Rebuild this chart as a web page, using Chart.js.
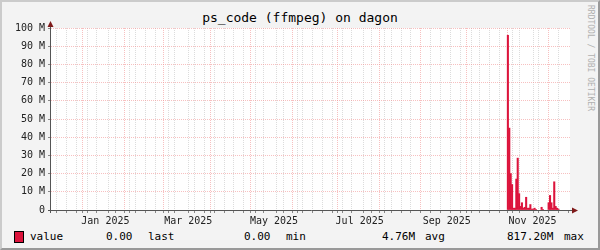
<!DOCTYPE html>
<html>
<head>
<meta charset="utf-8">
<script src="https://cdn.jsdelivr.net/npm/chart.js@4.4.1/dist/chart.umd.min.js"></script>
<style>
body { margin: 0; background: #fff; }
#wrap { position: relative; width: 600px; height: 250px; background: #f3f3f3; overflow: hidden;
        font-family: "DejaVu Sans Mono", monospace; }
#frame { position: absolute; left: 0; top: 0; width: 600px; height: 250px; box-sizing: border-box;
         border-style: solid; border-width: 2px; border-color: #cbcbcb #999 #999 #cbcbcb; }
#c { position: absolute; left: 0; top: 0; }
#title { position: absolute; left: 0; top: 10px; width: 600px; text-align: center; font-size: 13px; color: #000; }
#side { position: absolute; left: 586px; top: 5px; writing-mode: vertical-rl; font-size: 8px; color: #b0b0b0; }
.lg { position: absolute; top: 231px; font-size: 11px; line-height: 12px; color: #000; white-space: pre; }
#box { position: absolute; left: 14px; top: 231px; width: 8px; height: 10px; background: #DC143C; border: 1px solid #000; }
</style>
</head>
<body>
<div id="wrap">
  <div id="frame"></div>
  <div id="title">ps_code (ffmpeg) on dagon</div>
  <div id="side">RRDTOOL / TOBI OETIKER</div>
  <div id="box"></div>
  <span class="lg" style="left:30px">value</span>
  <span class="lg" style="left:106px">0.00</span>
  <span class="lg" style="left:148px">last</span>
  <span class="lg" style="left:244px">0.00</span>
  <span class="lg" style="left:286px">min</span>
  <span class="lg" style="left:382px">4.76M</span>
  <span class="lg" style="left:425px">avg</span>
  <span class="lg" style="left:507px">817.20M</span>
  <span class="lg" style="left:564px">max</span>
  <canvas id="c" width="600" height="250"></canvas>
</div>
<script>
// one value per day, in millions (days not listed are 0)
const spikeDates = ['2025-10-29','2025-10-30','2025-10-31','2025-11-01','2025-11-02','2025-11-03',
  '2025-11-04','2025-11-05','2025-11-06','2025-11-07','2025-11-08','2025-11-09','2025-11-10',
  '2025-11-11','2025-11-12','2025-11-13','2025-11-14','2025-11-15','2025-11-16','2025-11-17',
  '2025-11-18','2025-11-22','2025-11-23','2025-11-27','2025-11-28','2025-11-29','2025-11-30',
  '2025-12-01','2025-12-02','2025-12-03','2025-12-04'];
const spikeValues = [96, 45, 20, 14, 1, 1,
  17, 28.5, 9, 2, 4, 1, 1.5,
  7, 1, 1, 3, 0.5, 0.5, 1,
  0.3, 1.5, 0.3, 4, 8, 4, 1,
  15.5, 2, 1, 0.5];

const rangeStart = '2024-12-11';
const rangeEnd = '2025-12-10';
const monthStarts = ['2025-01-01','2025-02-01','2025-03-01','2025-04-01','2025-05-01','2025-06-01',
  '2025-07-01','2025-08-01','2025-09-01','2025-10-01','2025-11-01','2025-12-01'];
const labelDates = ['2025-01-16','2025-03-16','2025-05-16','2025-07-16','2025-09-16','2025-11-16'];
const labelTexts = ['Jan 2025','Mar 2025','May 2025','Jul 2025','Sep 2025','Nov 2025'];

// days since 2025-01-01
function dayOf(s) {
  return (Date.parse(s + 'T00:00:00Z') - Date.UTC(2025, 0, 1)) / 86400000;
}

const xMin = dayOf(rangeStart), xMax = dayOf(rangeEnd);
const tickKind = {};
for (let d = dayOf('2024-12-16'); d <= xMax; d += 7) tickKind[d] = 'week';
monthStarts.forEach(s => { tickKind[dayOf(s)] = 'month'; });
const labelMap = {};
labelDates.forEach((s, i) => { tickKind[dayOf(s)] = 'label'; labelMap[dayOf(s)] = labelTexts[i]; });
const xTicks = Object.keys(tickKind).map(Number).filter(v => v > xMin && v < xMax).sort((a, b) => a - b);

const RED = 'rgba(240,140,140,0.55)';
const GREY = 'rgba(205,205,205,0.7)';
const monoFont = { family: 'DejaVu Sans Mono', size: 10 };

const frame = {
  id: 'frame',
  beforeDraw(chart) {
    const { ctx, chartArea: a } = chart;
    ctx.save();
    ctx.fillStyle = '#fff';
    ctx.fillRect(a.left, a.top, a.right - a.left, a.bottom - a.top);
    ctx.restore();
  },
  afterDraw(chart) {
    const { ctx, chartArea: a } = chart;
    ctx.save();
    ctx.strokeStyle = '#555';
    ctx.lineWidth = 1;
    ctx.beginPath();
    ctx.moveTo(a.left - 3, a.bottom + 0.5);
    ctx.lineTo(a.right + 5, a.bottom + 0.5);
    ctx.moveTo(a.left - 0.5, a.bottom + 3);
    ctx.lineTo(a.left - 0.5, a.top - 3);
    ctx.stroke();
    ctx.fillStyle = '#7f1a1a';
    ctx.beginPath();
    ctx.moveTo(a.right + 2, a.bottom - 2.5);
    ctx.lineTo(a.right + 8, a.bottom + 0.5);
    ctx.lineTo(a.right + 2, a.bottom + 3.5);
    ctx.closePath();
    ctx.fill();
    ctx.beginPath();
    ctx.moveTo(a.left - 3.5, a.top - 1);
    ctx.lineTo(a.left - 0.5, a.top - 7);
    ctx.lineTo(a.left + 2.5, a.top - 1);
    ctx.closePath();
    ctx.fill();
    ctx.restore();
  }
};

new Chart(document.getElementById('c'), {
  type: 'bar',
  data: {
    datasets: [{
      label: 'value',
      data: spikeDates.map((d, i) => ({ x: dayOf(d) + 0.5, y: spikeValues[i] * 1e6 })),
      backgroundColor: '#DC143C',
      borderWidth: 0,
      barPercentage: 1,
      categoryPercentage: 1
    }]
  },
  options: {
    responsive: false,
    devicePixelRatio: 1,
    animation: false,
    layout: { padding: { top: 28, right: 30, left: 0, bottom: 0 } },
    plugins: { legend: { display: false }, tooltip: { enabled: false } },
    scales: {
      x: {
        type: 'linear',
        min: xMin,
        max: xMax,
        bounds: 'data',
        z: 1,
        afterBuildTicks: s => { s.ticks = xTicks.map(v => ({ value: v })); },
        afterFit: s => { s.height = 40; },
        ticks: {
          autoSkip: false, maxRotation: 0, padding: 2, font: monoFont, color: '#222',
          callback: v => labelMap[v] || ''
        },
        grid: {
          color: ctx => {
            const k = tickKind[ctx.tick && ctx.tick.value];
            return k === 'month' ? RED : (k === 'week' ? GREY : 'rgba(0,0,0,0)');
          },
          tickColor: ctx => {
            const k = tickKind[ctx.tick && ctx.tick.value];
            return k === 'label' ? 'rgba(0,0,0,0)' : '#888';
          },
          tickLength: 3
        },
        border: { display: false, dash: [1, 1] }
      },
      y: {
        min: 0,
        max: 1e8,
        z: 1,
        afterFit: s => { s.width = 51; },
        ticks: {
          stepSize: 5e6, padding: 3, font: monoFont, color: '#222',
          callback: v => (v % 1e7 !== 0 ? '' : (v === 0 ? '0' : (v / 1e6) + ' M'))
        },
        grid: {
          color: ctx => {
            const v = ctx.tick ? ctx.tick.value : 0;
            if (v === 0) return 'rgba(0,0,0,0)';
            return v % 1e7 === 0 ? RED : GREY;
          },
          tickColor: '#888',
          tickLength: 3
        },
        border: { display: false, dash: [1, 1] }
      }
    }
  },
  plugins: [frame]
});
</script>
</body>
</html>
